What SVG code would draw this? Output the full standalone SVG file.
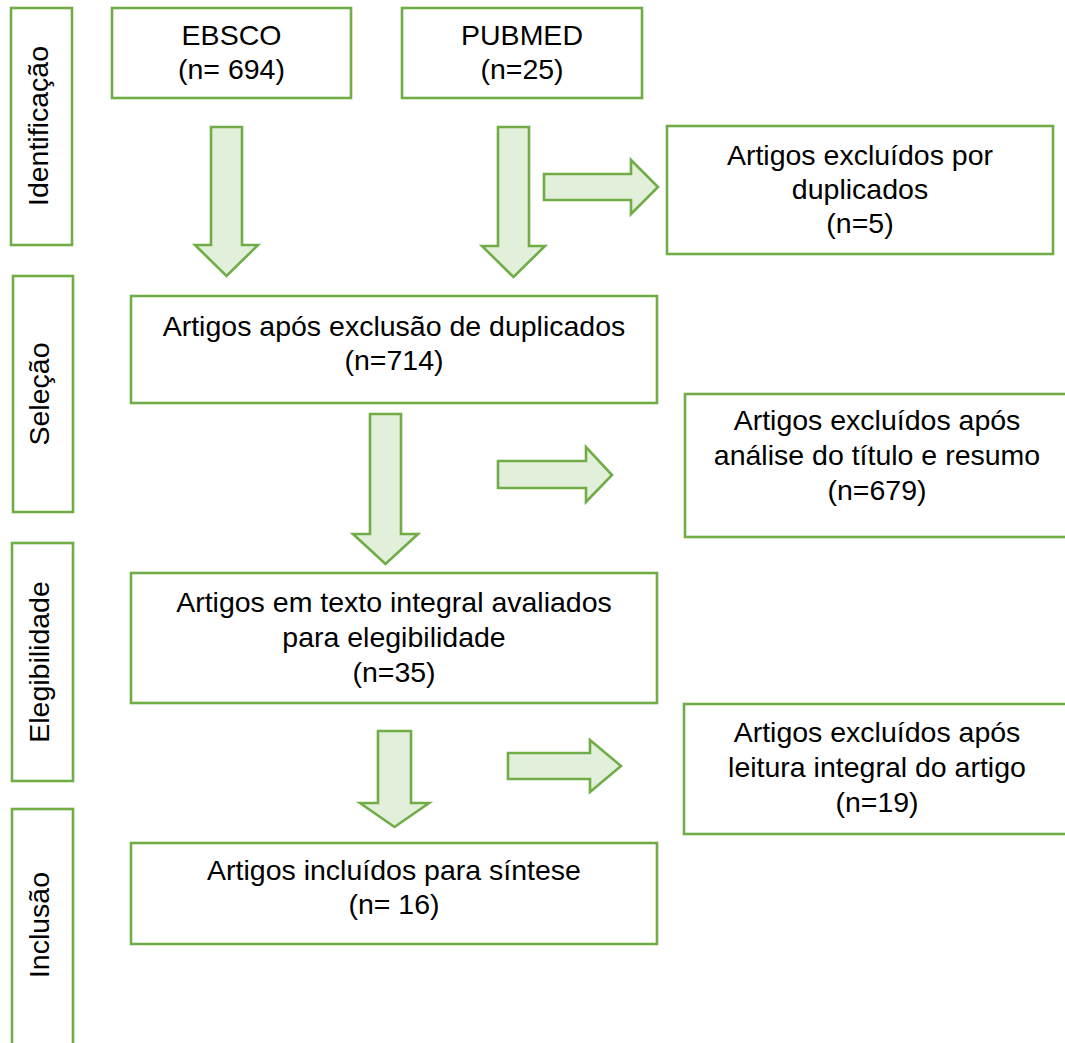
<svg xmlns="http://www.w3.org/2000/svg" width="1065" height="1043" viewBox="0 0 1065 1043">
<style>
.box{fill:#ffffff;stroke:#70AD47;stroke-width:2.6}
.arr{fill:#E2EFDA;stroke:#70AD47;stroke-width:2.6;stroke-linejoin:miter}
text{font-family:"Liberation Sans",Arial,sans-serif;font-size:28.5px;fill:#000000;text-anchor:middle}
</style>
<rect width="1065" height="1043" fill="#ffffff"/>
<g id="phase-identificacao">
<rect class="box" x="11" y="8" width="61" height="237"/>
<text transform="translate(48,126) rotate(-90)">Identificação</text>
</g>
<g id="phase-selecao">
<rect class="box" x="13" y="276" width="60" height="236"/>
<text transform="translate(49,394) rotate(-90)">Seleção</text>
</g>
<g id="phase-elegibilidade">
<rect class="box" x="12" y="543" width="61" height="238"/>
<text transform="translate(49,662) rotate(-90)">Elegibilidade</text>
</g>
<g id="phase-inclusao">
<rect class="box" x="12" y="809" width="61" height="250"/>
<text transform="translate(49,925) rotate(-90)">Inclusão</text>
</g>
<g id="ebsco">
<rect class="box" x="112" y="8" width="239" height="90"/>
<text x="231.5" y="45">EBSCO</text>
<text x="231.5" y="79">(n= 694)</text>
</g>
<g id="pubmed">
<rect class="box" x="402" y="8" width="240" height="90"/>
<text x="522" y="45">PUBMED</text>
<text x="522" y="79">(n=25)</text>
</g>
<g id="excl-duplicados">
<rect class="box" x="667" y="126" width="386" height="128"/>
<text x="860" y="165">Artigos excluídos por</text>
<text x="860" y="199">duplicados</text>
<text x="860" y="233">(n=5)</text>
</g>
<g id="apos-exclusao">
<rect class="box" x="131" y="296" width="526" height="107"/>
<text x="394" y="336">Artigos após exclusão de duplicados</text>
<text x="394" y="370">(n=714)</text>
</g>
<g id="excl-titulo">
<rect class="box" x="685" y="394" width="390" height="143"/>
<text x="877" y="430">Artigos excluídos após</text>
<text x="877" y="465">análise do título e resumo</text>
<text x="877" y="500">(n=679)</text>
</g>
<g id="texto-integral">
<rect class="box" x="131" y="573" width="526" height="130"/>
<text x="394" y="612">Artigos em texto integral avaliados</text>
<text x="394" y="647">para elegibilidade</text>
<text x="394" y="682">(n=35)</text>
</g>
<g id="excl-leitura">
<rect class="box" x="684" y="704" width="390" height="130"/>
<text x="877" y="742">Artigos excluídos após</text>
<text x="877" y="777">leitura integral do artigo</text>
<text x="877" y="812">(n=19)</text>
</g>
<g id="incluidos">
<rect class="box" x="131" y="843" width="526" height="101"/>
<text x="394" y="880">Artigos incluídos para síntese</text>
<text x="394" y="914">(n= 16)</text>
</g>
<g id="connectors">
<polygon class="arr" points="211,127 242,127 242,245 258,245 226.5,276 195,245 211,245"/>
<polygon class="arr" points="498,127 529,127 529,246 545,246 513.5,277 482,246 498,246"/>
<polygon class="arr" points="544,174 631,174 631,160 658,187 631,214 631,200 544,200"/>
<polygon class="arr" points="370,414 401,414 401,534 418,534 385.5,564 353,534 370,534"/>
<polygon class="arr" points="498,461 586,461 586,447 612,475 586,502 586,488 498,488"/>
<polygon class="arr" points="378,731 411,731 411,803 429,803 394.5,827 360,803 378,803"/>
<polygon class="arr" points="508,753 590,753 590,740 621,766 590,792 590,779 508,779"/>
</g>
</svg>
